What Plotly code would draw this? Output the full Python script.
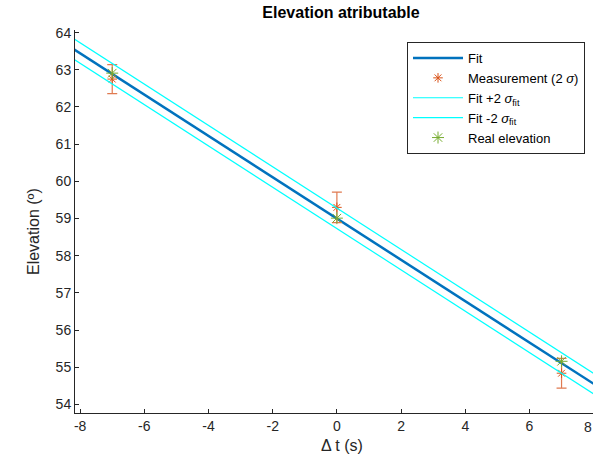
import plotly.graph_objects as go

# ---- data ----
meas_t = [-7, 0, 7]
meas_elev = [62.75, 59.30, 54.84]
meas_err = [0.39, 0.41, 0.40]

real_t = [-7, 0, 7]
real_elev = [62.91, 59.01, 55.16]

fit_t = [-9, 9]
fit_elev = [64.0, 54.0]
fit_up = [64.28, 54.28]
fit_lo = [63.73, 53.73]

x_range = [-8.16, 7.98]
y_range = [53.77, 64.07]
x_ticks = [-8, -6, -4, -2, 0, 2, 4, 6]
y_ticks = [54, 55, 56, 57, 58, 59, 60, 61, 62, 63, 64]

FONT = "Liberation Sans, Arial, sans-serif"
AX = "#262626"
W, H = 593, 463
L, R, T, B = 75, 0, 30, 50
PW, PH = W - L - R, H - T - B

fig = go.Figure()
fig.add_trace(go.Scatter(x=fit_t, y=fit_elev, mode="lines", name="Fit",
                         line=dict(color="#0072BD", width=2.5)))
fig.add_trace(go.Scatter(x=meas_t, y=meas_elev, mode="markers",
                         name="Measurement (2 <i>σ</i>)",
                         marker=dict(symbol="asterisk-open", size=8, color="#D95319",
                                     line=dict(color="#D95319", width=1)),
                         error_y=dict(type="data", array=meas_err, color="#E07A50",
                                      thickness=1.2, width=5)))
fig.add_trace(go.Scatter(x=fit_t, y=fit_up, mode="lines",
                         name="Fit +2 <i>σ</i><sub>fit</sub>",
                         line=dict(color="#00FFFF", width=1.2)))
fig.add_trace(go.Scatter(x=fit_t, y=fit_lo, mode="lines",
                         name="Fit -2 <i>σ</i><sub>fit</sub>",
                         line=dict(color="#00FFFF", width=1.2)))
fig.add_trace(go.Scatter(x=real_t, y=real_elev, mode="markers", name="Real elevation",
                         marker=dict(symbol="asterisk-open", size=10, color="#77AC30",
                                     line=dict(color="#77AC30", width=1))))

fig.update_layout(
    width=W, height=H,
    margin=dict(l=L, r=R, t=T, b=B),
    paper_bgcolor="white", plot_bgcolor="white",
    font=dict(family=FONT, size=14, color=AX),
    title=dict(text="<b>Elevation atributable</b>", x=(341 - L) / PW, xref="paper",
               xanchor="center", y=1 - 12 / H, yanchor="middle",
               font=dict(size=16, color="black")),
    showlegend=True,
    legend=dict(x=(407 - L) / PW, y=1 - (42 - T) / PH, xanchor="left", yanchor="top",
                bgcolor="white", bordercolor=AX, borderwidth=1,
                font=dict(size=13, color="black"), itemwidth=50,
                tracegroupgap=0),
)
fig.update_xaxes(range=x_range, tickvals=x_ticks, ticktext=[str(v) for v in x_ticks],
                 showgrid=False, zeroline=False, showline=True, linecolor=AX,
                 linewidth=1, ticks="inside", ticklen=4, tickcolor=AX)
fig.update_yaxes(range=y_range, tickvals=y_ticks, showgrid=False, zeroline=False,
                 showline=True, linecolor=AX, linewidth=1, ticks="inside",
                 ticklen=4, tickcolor=AX)

# axis titles placed as annotations (pixel positions of the reference)
fig.add_annotation(x=(342 - L) / PW, xref="paper", y=-(445 - (T + PH)) / PH, yref="paper",
                   text="Δ t (s)", showarrow=False, xanchor="center", yanchor="middle",
                   font=dict(size=16, color=AX))
fig.add_annotation(x=(33 - L) / PW, xref="paper", y=1 - (232 - T) / PH, yref="paper",
                   text="Elevation (º)", textangle=-90, showarrow=False,
                   xanchor="center", yanchor="middle", font=dict(size=16, color=AX))

# partially visible last tick label "8" at the cropped right edge
fig.add_annotation(x=(8 - x_range[0]) / (x_range[1] - x_range[0]), xref="paper",
                   y=0, yref="paper", yanchor="top", yshift=-4, showarrow=False,
                   text="8", font=dict(size=14, color=AX))

fig.write_html("out.html")
